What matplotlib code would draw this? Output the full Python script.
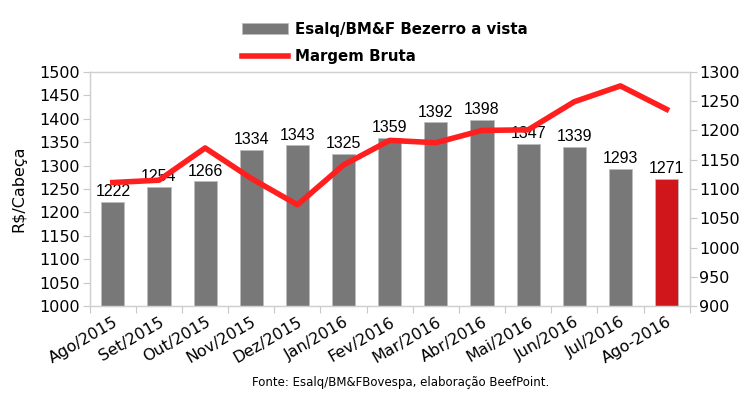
import matplotlib.pyplot as plt
import numpy as np

meses = ['Ago/2015', 'Set/2015', 'Out/2015', 'Nov/2015', 'Dez/2015', 'Jan/2016', 'Fev/2016',
         'Mar/2016', 'Abr/2016', 'Mai/2016', 'Jun/2016', 'Jul/2016', 'Ago-2016']
bezerro = [1222, 1254, 1266, 1334, 1343, 1325, 1359, 1392, 1398, 1347, 1339, 1293, 1271]
margem = [1111, 1115, 1170, 1118, 1073, 1141, 1183, 1179, 1200, 1201, 1249, 1276, 1236]

fig = plt.figure(figsize=(7.48, 3.97), dpi=100)
ax = fig.add_axes([0.120, 0.229, 0.802, 0.590])
ax2 = ax.twinx()

x = np.arange(len(meses))
cores = ['#787878'] * (len(meses) - 1) + ['#d0161b']
bars = ax.bar(x, bezerro, width=0.5, color=cores, edgecolor='#bdbdbd', linewidth=0.6,
              label='Esalq/BM&F Bezerro a vista', zorder=2)
for xi, v in zip(x, bezerro):
    ax.text(xi, v + 6, str(v), ha='center', va='bottom', fontsize=11.5,
            family='Liberation Sans', zorder=5)

linha, = ax2.plot(x, margem, color='#ff1f1f', lw=4, label='Margem Bruta', zorder=4)

ax.set_xlim(-0.5, len(meses) - 0.5)
ax.set_ylim(1000, 1500)
ax.set_yticks(range(1000, 1501, 50))
ax2.set_ylim(900, 1300)
ax2.set_yticks(range(900, 1301, 50))

ax.set_xticks(np.arange(-0.5, len(meses), 1))
ax.set_xticklabels([])
ax.set_xticks(x, minor=True)
ax.set_xticklabels(meses, minor=True, rotation=30, ha='right', rotation_mode='anchor', fontsize=11.5)
ax.tick_params(axis='x', which='minor', length=0, pad=6)
ax.tick_params(axis='x', which='major', length=5, color='#c8c8c8')

ax.tick_params(axis='y', labelsize=11.5, length=5, color='#c8c8c8', pad=2)
ax2.tick_params(axis='y', labelsize=11.5, length=5, color='#c8c8c8', pad=2)

for a in (ax, ax2):
    for s in a.spines.values():
        s.set_color('#d0d0d0')
        s.set_linewidth(0.9)

ax.set_ylabel('R$/Cabeça', fontsize=11.5, labelpad=9)

fig.legend([bars, linha], ['Esalq/BM&F Bezerro a vista', 'Margem Bruta'],
           loc='upper left', bbox_to_anchor=(0.3235, 0.945), frameon=False,
           prop={'weight': 'bold', 'size': 10.8}, handlelength=3.1, labelspacing=0.8,
           handletextpad=0.45, borderpad=0, borderaxespad=0)

fig.text(0.535, 0.028, 'Fonte: Esalq/BM&FBovespa, elaboração BeefPoint.', ha='center',
         fontsize=8.5)

fig.savefig('out.png', dpi=100)
